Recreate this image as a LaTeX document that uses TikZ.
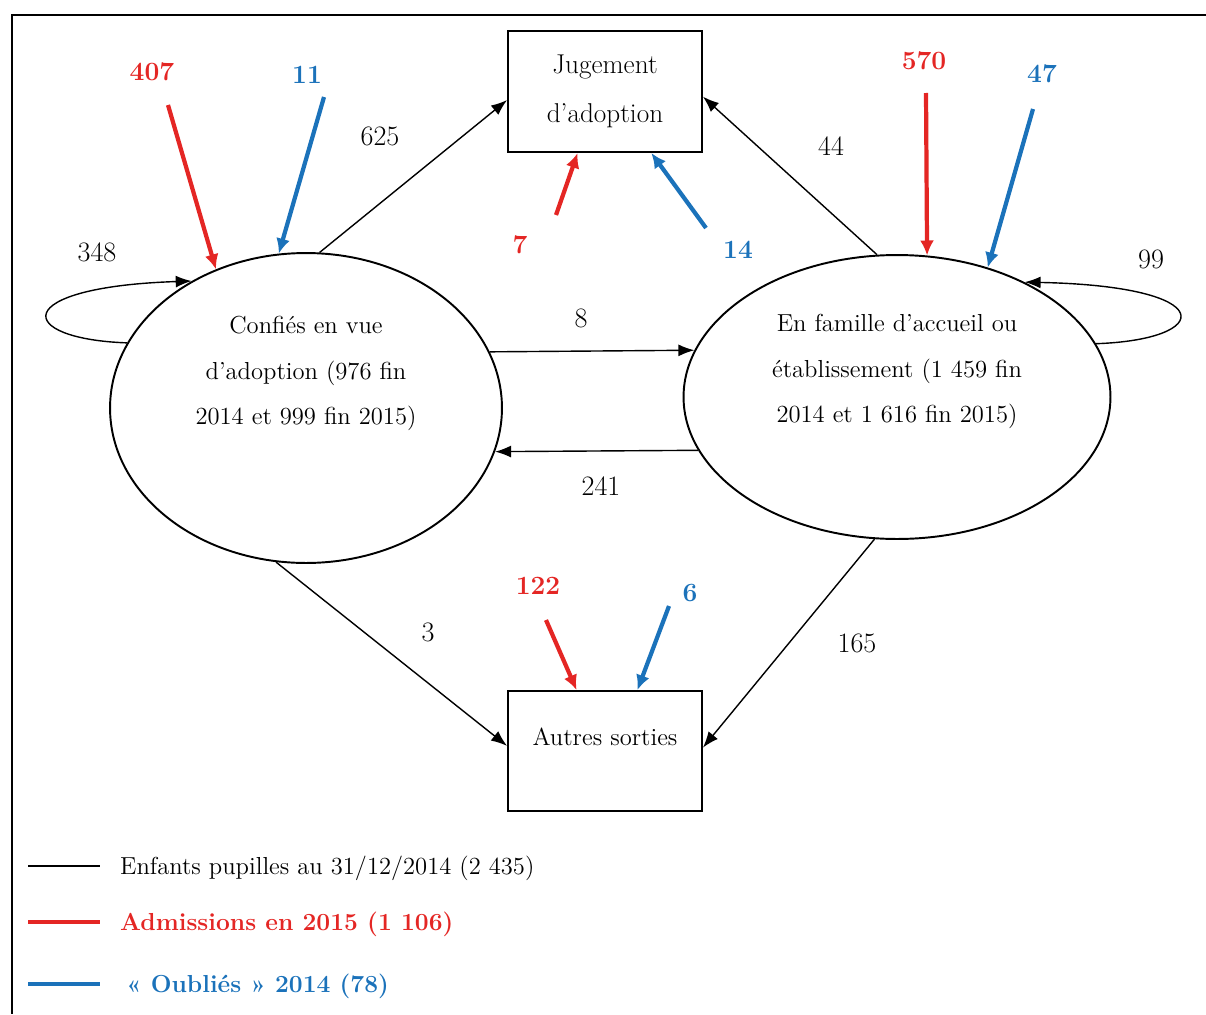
\documentclass[tikz,border=0pt]{standalone}
\usepackage{tikz}
\usetikzlibrary{arrows.meta, shapes.geometric}
\definecolor{admred}{RGB}{228,38,36}
\definecolor{oublue}{RGB}{27,114,186}
\tikzset{
    etat/.style={ellipse, draw, line width=1.1pt, inner sep=0pt, align=center, font=\fontsize{14}{25.8}\selectfont},
    sortie/.style={rectangle, draw, line width=1.1pt, minimum width=3.88cm, font=\fontsize{15.5}{28}\selectfont},
    flux/.style={line width=0.8pt, -{Latex[length=0.32cm,width=0.24cm]}},
    admis/.style={admred, line width=2.4pt, -{Latex[length=0.3cm,width=0.28cm]}},
    oubli/.style={oublue, line width=2.4pt, -{Latex[length=0.3cm,width=0.28cm]}},
    nb/.style={font=\fontsize{16}{18}\selectfont},
    nbadm/.style={font=\fontsize{15}{17}\selectfont\bfseries, text=admred},
    nboub/.style={font=\fontsize{15}{17}\selectfont\bfseries, text=oublue},
    leg/.style={anchor=west, font=\fontsize{14}{16}\selectfont}
}

\begin{document}
\begin{tikzpicture}[x=0.02cm, y=-0.02cm]
            \useasboundingbox (0,0) rectangle (1206,1014);
            \draw[line width=1.5pt] (1206,15) -- (12,15) -- (12,1014);

            \node[etat, minimum width=7.84cm, minimum height=6.2cm, text depth=1.5cm] (vue) at (306,408)
                {Confiés en vue\\d’adoption (976 fin\\2014 et 999 fin 2015)};
            \node[etat, minimum width=8.54cm, minimum height=5.68cm, text depth=1.14cm] (fam) at (897,397)
                {En famille d’accueil ou\\établissement (1 459 fin\\2014 et 1 616 fin 2015)};
            \node[sortie, minimum height=2.42cm, align=center] (jug) at (605,91.5) {Jugement\\d’adoption};
            \node[sortie, minimum height=2.4cm, inner ysep=0pt, text height=1.08cm, text depth=1.32cm,
                font=\fontsize{14}{16}\selectfont] (aut) at (605,751) {Autres sorties};

            \draw[flux] (vue.17) -- (fam.167.6);
            \draw[flux] (fam.195) -- (vue.347.5);
            \draw[flux] (vue.85) -- (jug.185);
            \draw[flux] (fam.98) -- (jug.357);
            \draw[flux] (vue.259) -- (aut.177);
            \draw[flux] (fam.261) -- (aut.2);
            \draw[flux] (vue.160) .. controls +(-113,-4) and +(-183,6) .. (vue.132);
            \draw[flux] (fam.15) .. controls +(118,-4) and +(197,4) .. (fam.42);

            \node[nb] (n625) at (380,136) {625};
            \node[nb] (n44) at (831,146) {44};
            \node[nb] (n8) at (581,318) {8};
            \node[nb] (n241) at (601,486) {241};
            \node[nb] (n3) at (428,632) {3};
            \node[nb] (n165) at (857,643) {165};
            \node[nb] (n348) at (97,252) {348};
            \node[nb] (n99) at (1151,259) {99};

            \coordinate (s407) at (168,105);
            \coordinate (s11) at (324,97);
            \coordinate (s7) at (556,215);
            \coordinate (s14) at (706,228);
            \coordinate (s570) at (926,93);
            \coordinate (s47) at (1033,109);
            \coordinate (s122) at (546,620);
            \coordinate (s6) at (669,606);

            \draw[admis] (s407) -- (vue.123);
            \draw[oubli] (s11) -- (vue.100);
            \draw[admis] (s7) -- (jug.246);
            \draw[oubli] (s14) -- (jug.307);
            \draw[admis] (s570) -- (fam.78);
            \draw[oubli] (s47) -- (fam.55);
            \draw[admis] (s122) -- (aut.115);
            \draw[oubli] (s6) -- (aut.62);

            \node[nbadm] (n407) at (152,72) {407};
            \node[nboub] (n11) at (307,75) {11};
            \node[nbadm] (n7) at (520,245) {7};
            \node[nboub] (n14) at (738,250) {14};
            \node[nbadm] (n570) at (924,61) {570};
            \node[nboub] (n47) at (1042,74) {47};
            \node[nbadm] (n122) at (538,586) {122};
            \node[nboub] (n6) at (690,593) {6};

            % legende
            \coordinate (k1a) at (28,866);
            \coordinate (k1b) at (100,866);
            \coordinate (k2a) at (28,922);
            \coordinate (k2b) at (100,922);
            \coordinate (k3a) at (28,984);
            \coordinate (k3b) at (100,984);
            \draw[line width=1.3pt] (k1a) -- (k1b);
            \draw[admred, line width=2.6pt] (k2a) -- (k2b);
            \draw[oublue, line width=2.6pt] (k3a) -- (k3b);
            \node[leg] (leg1) at (114,868) {Enfants pupilles au 31/12/2014 (2 435)};
            \node[leg, text=admred, font=\fontsize{14}{16}\selectfont\bfseries] (leg2) at (114,924) {Admissions en 2015 (1 106)};
            \node[leg, text=oublue, font=\fontsize{14}{16}\selectfont\bfseries] (leg3) at (120,986) {« Oubliés » 2014 (78)};
        \end{tikzpicture}
\end{document}
